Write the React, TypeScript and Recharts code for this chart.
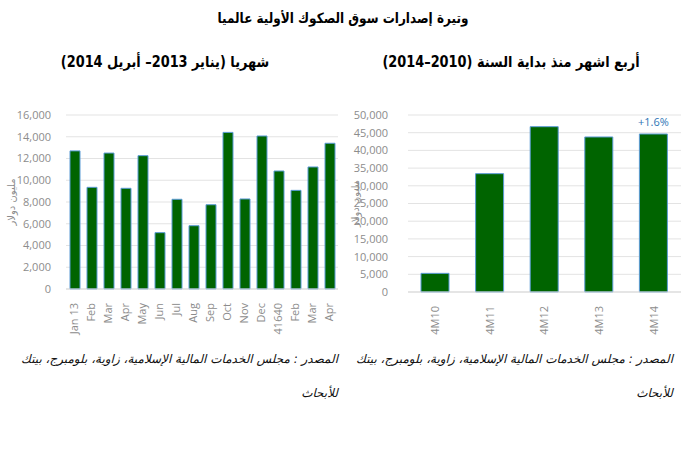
import React from 'react';
import { BarChart, Bar, XAxis, YAxis, CartesianGrid, LabelList } from 'recharts';

const monthlyCategories = ['Jan 13', 'Feb', 'Mar', 'Apr', 'May', 'Jun', 'Jul', 'Aug', 'Sep', 'Oct', 'Nov', 'Dec', '41640', 'Feb', 'Mar', 'Apr'];
const monthlyValues = [12700, 9350, 12500, 9260, 12260, 5180, 8250, 5820, 7750, 14400, 8280, 14070, 10850, 9070, 11220, 13400];
const monthlyTicks = [0, 2000, 4000, 6000, 8000, 10000, 12000, 14000, 16000];

const ytdCategories = ['4M10', '4M11', '4M12', '4M13', '4M14'];
const ytdValues = [5270, 33430, 46700, 43790, 44630];
const ytdNotes = ['', '', '', '', '+1.6%'];
const ytdTicks = [0, 5000, 10000, 15000, 20000, 25000, 30000, 35000, 40000, 45000, 50000];

const title = 'وتيرة إصدارات سوق الصكوك الأولية عالميا';
const leftSubtitle = 'شهريا (يناير 2013– أبريل 2014)';
const rightSubtitle = 'أربع اشهر منذ بداية السنة (2010–2014)';
const yTitle = 'مليون دولار';
const sourceLine1 = 'المصدر : مجلس الخدمات المالية الإسلامية، زاوية، بلومبرج، بيتك';
const sourceLine2 = 'للأبحاث';

const monthlyData = monthlyCategories.map((c, i) => ({ name: c, value: monthlyValues[i] }));
const ytdData = ytdCategories.map((c, i) => ({ name: c, value: ytdValues[i], note: ytdNotes[i] }));

const GRAY = '#8c8c8c';
const GREEN = '#006400';
const EDGE = '#5b9bd5';
const tickFont = { fontFamily: '"Open Sans", sans-serif', fontSize: 11, fill: GRAY };
const fmt = (v: number) => v.toLocaleString('en-US');

const RotTick = (props: any) => {
  const { x, y, payload } = props;
  return (
    <g transform={`translate(${x},${y + 6})`}>
      <text transform="rotate(-90)" textAnchor="end" dy="0.35em" {...tickFont}>
        {payload.value}
      </text>
    </g>
  );
};

const headStyle: React.CSSProperties = {
  position: 'absolute',
  fontFamily: '"DejaVu Sans", sans-serif',
  fontWeight: 'bold',
  color: '#000',
  direction: 'rtl',
  whiteSpace: 'nowrap',
  textAlign: 'center',
  transform: 'scaleX(0.86)',
  transformOrigin: 'center',
};

const footStyle: React.CSSProperties = {
  position: 'absolute',
  fontFamily: '"DejaVu Sans", sans-serif',
  fontStyle: 'italic',
  fontSize: 12,
  color: '#111',
  direction: 'rtl',
  textAlign: 'right',
  whiteSpace: 'nowrap',
  lineHeight: '34px',
};

const yTitleStyle = { fontFamily: '"DejaVu Sans", sans-serif', fontSize: 10, fill: GRAY, textAnchor: 'middle' };

export default function App() {
  return (
    <div style={{ position: 'absolute', left: 0, top: 0, width: 698, height: 450, background: '#fff', overflow: 'hidden' }}>
      <div style={{ ...headStyle, left: 43, width: 600, top: 8, fontSize: 14, lineHeight: '20px' }}>{title}</div>
      <div style={{ ...headStyle, left: 15, width: 300, top: 52, fontSize: 15, lineHeight: '20px' }}>{leftSubtitle}</div>
      <div style={{ ...headStyle, left: 361, width: 300, top: 52, fontSize: 15, lineHeight: '20px' }}>{rightSubtitle}</div>

      <div style={{ position: 'absolute', left: 0, top: 100 }}>
        <BarChart width={349} height={240} data={monthlyData} margin={{ top: 15, right: 11, bottom: 0, left: 0 }}>
          <CartesianGrid vertical={false} stroke="#e3e3e3" />
          <XAxis dataKey="name" interval={0} height={51} tickLine={false} axisLine={{ stroke: '#d9d9d9' }} tick={<RotTick />} />
          <YAxis
            width={66}
            domain={[0, 16000]}
            ticks={monthlyTicks}
            interval={0}
            tickFormatter={fmt}
            axisLine={false}
            tickLine={false}
            tick={tickFont}
            tickMargin={9}
            label={{ value: yTitle, angle: -90, position: 'insideLeft', offset: 11, style: yTitleStyle }}
          />
          <Bar dataKey="value" fill={GREEN} stroke={EDGE} strokeWidth={1} barSize={10} isAnimationActive={false} />
        </BarChart>
      </div>

      <div style={{ position: 'absolute', left: 349, top: 100 }}>
        <BarChart width={349} height={240} data={ytdData} margin={{ top: 15, right: 17, bottom: 0, left: 0 }}>
          <CartesianGrid vertical={false} stroke="#e3e3e3" />
          <XAxis dataKey="name" interval={0} height={48} tickLine={false} axisLine={{ stroke: '#d9d9d9' }} tick={<RotTick />} />
          <YAxis
            width={59}
            domain={[0, 50000]}
            ticks={ytdTicks}
            interval={0}
            tickFormatter={fmt}
            axisLine={false}
            tickLine={false}
            tick={tickFont}
            tickMargin={14}
            label={{ value: yTitle, angle: -90, position: 'insideLeft', offset: 6, style: yTitleStyle }}
          />
          <Bar dataKey="value" fill={GREEN} stroke={EDGE} strokeWidth={1} barSize={28} isAnimationActive={false}>
            <LabelList dataKey="note" position="top" offset={8} style={{ fontFamily: '"Open Sans", sans-serif', fontSize: 11, fill: '#2e75b6' }} />
          </Bar>
        </BarChart>
      </div>

      <div style={{ ...footStyle, left: 8, width: 330, top: 342 }}>
        <div>{sourceLine1}</div>
        <div>{sourceLine2}</div>
      </div>
      <div style={{ ...footStyle, left: 343, width: 330, top: 342 }}>
        <div>{sourceLine1}</div>
        <div>{sourceLine2}</div>
      </div>
    </div>
  );
}
